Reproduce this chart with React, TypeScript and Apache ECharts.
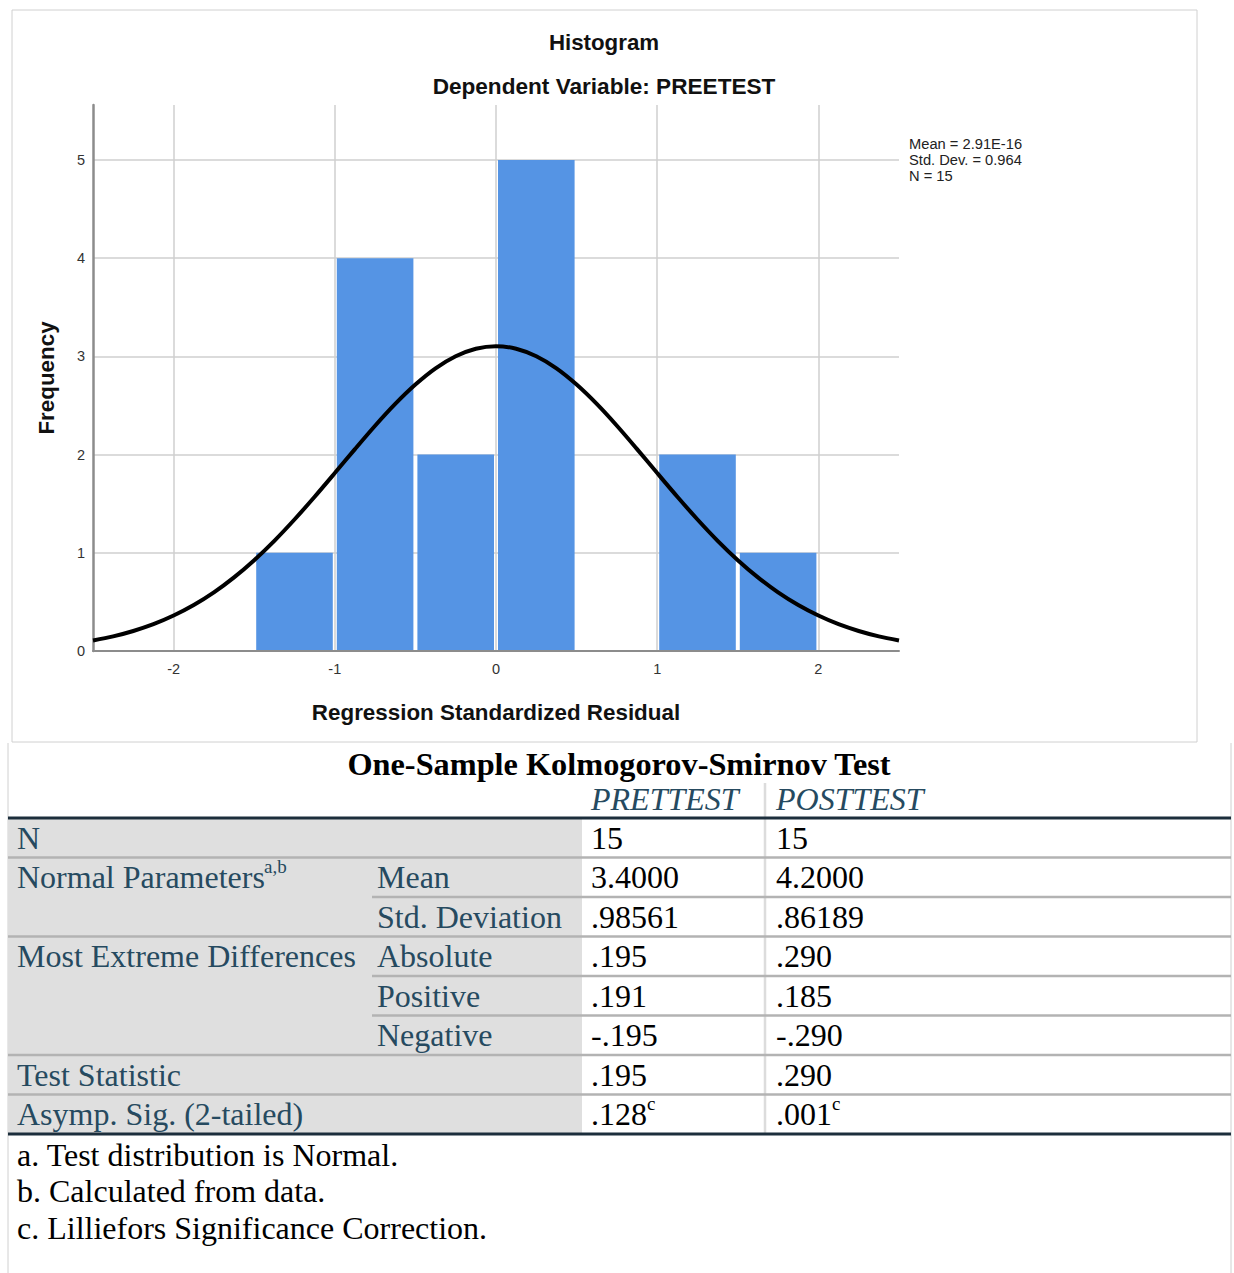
import React, { useEffect, useRef } from "react";
import * as echarts from "echarts";

// ---------- Histogram data ----------
const binStarts = [-1.5, -1.0, -0.5, 0.0, 0.5, 1.0, 1.5];
const binEnds = [-1.0, -0.5, 0.0, 0.5, 1.0, 1.5, 2.0];
const frequencies = [1, 4, 2, 5, 0, 2, 1];

// normal curve
const curveX = [
  -2.5, -2.375, -2.25, -2.125, -2.0, -1.875, -1.75, -1.625, -1.5, -1.375, -1.25, -1.125, -1.0, -0.875, -0.75, -0.625, -0.5, -0.375, -0.25, -0.125,
  0,
  0.125, 0.25, 0.375, 0.5, 0.625, 0.75, 0.875, 1.0, 1.125, 1.25, 1.375, 1.5, 1.625, 1.75, 1.875, 2.0, 2.125, 2.25, 2.375, 2.5,
];
const curveY = [
  0.107, 0.149, 0.204, 0.273, 0.361, 0.468, 0.597, 0.75, 0.925, 1.122, 1.339, 1.571, 1.812, 2.056, 2.294, 2.516, 2.713, 2.878, 3.001, 3.078,
  3.104,
  3.078, 3.001, 2.878, 2.713, 2.516, 2.294, 2.056, 1.812, 1.571, 1.339, 1.122, 0.925, 0.75, 0.597, 0.468, 0.361, 0.273, 0.204, 0.149, 0.107,
];

const statsLines = ["Mean = 2.91E-16", "Std. Dev. = 0.964", "N = 15"];

// ---------- Table data ----------
const tableTitle = "One-Sample Kolmogorov-Smirnov Test";
const columnHeaders = ["PRETTEST", "POSTTEST"];
const rowLabels = ["N", "Normal Parameters", "", "Most Extreme Differences", "", "", "Test Statistic", "Asymp. Sig. (2-tailed)"];
const rowLabelSup = ["", "a,b", "", "", "", "", "", ""];
const subLabels = ["", "Mean", "Std. Deviation", "Absolute", "Positive", "Negative", "", ""];
const pretValues = ["15", "3.4000", ".98561", ".195", ".191", "-.195", ".195", ".128"];
const postValues = ["15", "4.2000", ".86189", ".290", ".185", "-.290", ".290", ".001"];
const valueSup = ["", "", "", "", "", "", "", "c"];
const footnotes = ["a. Test distribution is Normal.", "b. Calculated from data.", "c. Lilliefors Significance Correction."];

const SANS = "'Liberation Sans', Arial, sans-serif";
const SERIF = "'Liberation Serif', 'Times New Roman', serif";
const BAR = "#5594e4";
const LABEL_COL = "#264a60";
const TFONT = 32;

function buildTableGraphics() {
  const els: any[] = [];
  const tableLeft = 8;
  const tableRight = 1231;
  const top = 818;
  const rowH = 39.5;
  const nRows = rowLabels.length;
  const bottom = top + rowH * nRows;
  const col2X = 372;
  const dataX = 582;
  const data2X = 765;

  els.push({ type: "line", shape: { x1: 8, y1: 743, x2: 8, y2: 1273 }, style: { stroke: "#d0d0d0", lineWidth: 1 } });
  els.push({ type: "line", shape: { x1: 1231, y1: 743, x2: 1231, y2: 1273 }, style: { stroke: "#d0d0d0", lineWidth: 1 } });

  els.push({ type: "rect", shape: { x: tableLeft, y: top, width: dataX - tableLeft, height: bottom - top }, style: { fill: "#dfdfdf" } });

  els.push({ type: "text", x: 619, y: 764, style: { text: tableTitle, font: `bold 32.3px ${SERIF}`, fill: "#000", textAlign: "center", textVerticalAlign: "middle" } });
  els.push({ type: "text", x: 591, y: 799, style: { text: columnHeaders[0], font: `italic ${TFONT}px ${SERIF}`, fill: LABEL_COL, textAlign: "left", textVerticalAlign: "middle" } });
  els.push({ type: "text", x: 776, y: 799, style: { text: columnHeaders[1], font: `italic ${TFONT}px ${SERIF}`, fill: LABEL_COL, textAlign: "left", textVerticalAlign: "middle" } });

  els.push({ type: "line", shape: { x1: data2X, y1: 783, x2: data2X, y2: bottom }, style: { stroke: "#dcdcdc", lineWidth: 2.5 } });

  const partial = [1, 3, 4];
  for (let i = 0; i < nRows - 1; i++) {
    const y = top + rowH * (i + 1);
    const x1 = partial.indexOf(i) >= 0 ? col2X : tableLeft;
    els.push({ type: "line", shape: { x1, y1: y, x2: tableRight, y2: y }, style: { stroke: "#b3b3b3", lineWidth: 2.5 } });
  }

  els.push({ type: "line", shape: { x1: tableLeft, y1: top, x2: tableRight, y2: top }, style: { stroke: "#1c2e3c", lineWidth: 3 } });
  els.push({ type: "line", shape: { x1: tableLeft, y1: bottom, x2: tableRight, y2: bottom }, style: { stroke: "#1c2e3c", lineWidth: 3 } });

  for (let i = 0; i < nRows; i++) {
    const cy = top + rowH * (i + 0.5);
    if (rowLabels[i]) {
      els.push({ type: "text", x: 17, y: cy, style: { text: rowLabels[i], font: `${TFONT}px ${SERIF}`, fill: LABEL_COL, textAlign: "left", textVerticalAlign: "middle" } });
    }
    if (rowLabelSup[i]) {
      els.push({ type: "text", x: 264, y: cy - 11, style: { text: rowLabelSup[i], font: `19px ${SERIF}`, fill: LABEL_COL, textAlign: "left", textVerticalAlign: "middle" } });
    }
    if (subLabels[i]) {
      els.push({ type: "text", x: 377, y: cy, style: { text: subLabels[i], font: `${TFONT}px ${SERIF}`, fill: LABEL_COL, textAlign: "left", textVerticalAlign: "middle" } });
    }
    els.push({ type: "text", x: 591, y: cy, style: { text: pretValues[i], font: `${TFONT}px ${SERIF}`, fill: "#000", textAlign: "left", textVerticalAlign: "middle" } });
    els.push({ type: "text", x: 776, y: cy, style: { text: postValues[i], font: `${TFONT}px ${SERIF}`, fill: "#000", textAlign: "left", textVerticalAlign: "middle" } });
    if (valueSup[i]) {
      els.push({ type: "text", x: 647, y: cy - 11, style: { text: valueSup[i], font: `19px ${SERIF}`, fill: "#000", textAlign: "left", textVerticalAlign: "middle" } });
      els.push({ type: "text", x: 832, y: cy - 11, style: { text: valueSup[i], font: `19px ${SERIF}`, fill: "#000", textAlign: "left", textVerticalAlign: "middle" } });
    }
  }

  const footY = [1155, 1191, 1228];
  footnotes.forEach((f, i) => {
    els.push({ type: "text", x: 17, y: footY[i], style: { text: f, font: `${TFONT}px ${SERIF}`, fill: "#000", textAlign: "left", textVerticalAlign: "middle" } });
  });
  return els;
}

export default function App() {
  const ref = useRef<HTMLDivElement>(null);

  useEffect(() => {
    document.body.style.margin = "0";
    if (!ref.current) return;
    const chart = echarts.init(ref.current, undefined, { renderer: "svg" });

    const graphics: any[] = [
      { type: "rect", shape: { x: 12, y: 10, width: 1185, height: 732 }, style: { fill: "none", stroke: "#d0d0d0", lineWidth: 1 } },
      { type: "text", x: 604, y: 42, style: { text: "Histogram", font: `bold 22.3px ${SANS}`, fill: "#111", textAlign: "center", textVerticalAlign: "middle" } },
      { type: "text", x: 604, y: 86, style: { text: "Dependent Variable: PREETEST", font: `bold 22.6px ${SANS}`, fill: "#111", textAlign: "center", textVerticalAlign: "middle" } },
      ...statsLines.map((t, i) => ({
        type: "text", x: 909, y: 144 + i * 16,
        style: { text: t, font: `14.7px ${SANS}`, fill: "#222", textAlign: "left", textVerticalAlign: "middle" },
      })),
      ...buildTableGraphics(),
    ];

    const option: any = {
      animation: false,
      backgroundColor: "#fff",
      grid: { left: 93, top: 105, width: 806, height: 546, containLabel: false },
      xAxis: {
        type: "value",
        min: -2.5,
        max: 2.5,
        splitNumber: 5,
        name: "Regression Standardized Residual",
        nameLocation: "middle",
        nameGap: 50,
        nameTextStyle: { fontFamily: SANS, fontWeight: "bold", fontSize: 22.4, color: "#111" },
        axisLine: { onZero: false, lineStyle: { color: "#8c8c8c", width: 2 } },
        axisTick: { show: false },
        axisLabel: { showMinLabel: false, showMaxLabel: false, fontFamily: SANS, fontSize: 14.5, color: "#333", margin: 10 },
        splitLine: { show: true, showMinLine: false, showMaxLine: false, lineStyle: { color: "#cfcfcf", width: 1.5 } },
      },
      yAxis: {
        type: "value",
        min: 0,
        max: 5.56,
        interval: 1,
        name: "Frequency",
        nameLocation: "middle",
        nameGap: 36,
        nameTextStyle: { fontFamily: SANS, fontWeight: "bold", fontSize: 22.4, color: "#111" },
        axisLine: { show: true, onZero: false, lineStyle: { color: "#8c8c8c", width: 2.5 } },
        axisTick: { show: false },
        axisLabel: { showMaxLabel: false, fontFamily: SANS, fontSize: 14.5, color: "#333", margin: 8 },
        splitLine: { show: true, showMinLine: false, showMaxLine: false, lineStyle: { color: "#cfcfcf", width: 1.5 } },
      },
      series: [
        {
          type: "custom",
          z: 2,
          encode: { x: [0, 1], y: 2 },
          data: binStarts.map((s, i) => [s, binEnds[i], frequencies[i]]),
          renderItem: (params: any, api: any) => {
            const x0 = api.value(0);
            const x1 = api.value(1);
            const h = api.value(2);
            if (!h) return null;
            const p0 = api.coord([x0, h]);
            const p1 = api.coord([x1, 0]);
            return {
              type: "rect",
              shape: { x: p0[0] + 2, y: p0[1], width: p1[0] - p0[0] - 4, height: p1[1] - p0[1] - 1 },
              style: { fill: BAR },
            };
          },
        },
        {
          type: "line",
          z: 4,
          smooth: 0.3,
          showSymbol: false,
          symbol: "none",
          data: curveX.map((x, i) => [x, curveY[i]]),
          lineStyle: { color: "#000", width: 4 },
        },
      ],
      graphic: { elements: graphics },
    };

    chart.setOption(option);
    return () => chart.dispose();
  }, []);

  return <div ref={ref} style={{ width: 1234, height: 1273 }} />;
}
